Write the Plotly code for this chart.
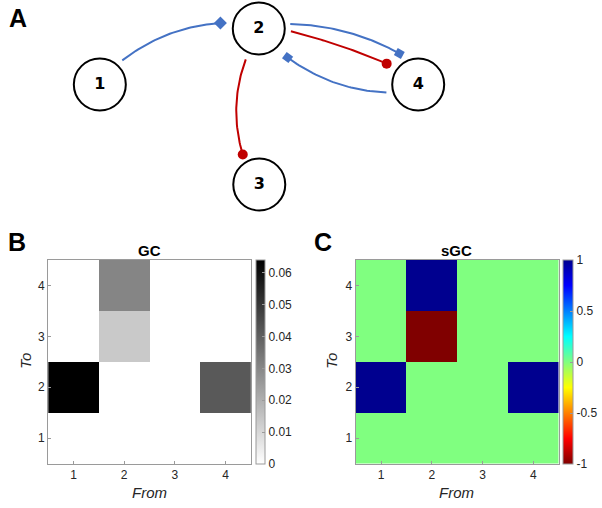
import numpy as np
import plotly.graph_objects as go

W, H = 602, 508

# ---------------- data ----------------
node_labels = ["1", "2", "3", "4"]
node_x = [100.5, 260.5, 261.0, 421.0]   # network layout positions (panel A)
node_y = [84.5, 28.5, 184.5, 84.5]

# edges: source, target, sign (+1 excitatory / -1 inhibitory), end symbol
edge_src = [1, 2, 2, 4, 2]
edge_dst = [2, 4, 4, 2, 3]
edge_sign = [1, 1, -1, 1, -1]
edge_symbol = ["diamond", "square", "circle", "square", "circle"]

from_labels = [1, 2, 3, 4]
to_labels = [1, 2, 3, 4]

# GC matrix: rows = To (1..4), columns = From (1..4)
gc_to1 = [0.0, 0.0, 0.0, 0.0]
gc_to2 = [0.064, 0.0, 0.0, 0.0417]
gc_to3 = [0.0, 0.0135, 0.0, 0.0]
gc_to4 = [0.0, 0.0306, 0.0, 0.0]
gc_ticks = [0, 0.01, 0.02, 0.03, 0.04, 0.05, 0.06]

# sGC matrix
sgc_to1 = [0, 0, 0, 0]
sgc_to2 = [1, 0, 0, 1]
sgc_to3 = [0, -1, 0, 0]
sgc_to4 = [0, 1, 0, 0]
sgc_ticks = [-1, -0.5, 0, 0.5, 1]

# ---------------- styling of the graph drawing ----------------
# per edge: start angle / radius on source, end angle / radius on target, bend
edge_geom = [
    (-46.8, 33, 188.0, 39, -16),
    (-8.0, 32, -121.5, 36.4, -14),
    (5.0, 32.5, -146.7, 38, -4),
    (166.0, 33, 45.0, 41, -16),
    (113.0, 33.5, -119.0, 34.3, 16),
]
BLUE = "#4472C4"
RED = "#C00000"
AXC = "#9a9a9a"
TXT = "#262626"
FONT = "Liberation Sans, Arial, sans-serif"


def px(x):
    return x / W


def py(y):
    return 1 - y / H


fig = go.Figure()

# ---------- Panel A: network ----------
for s, d, sign, sym, geom in zip(edge_src, edge_dst, edge_sign, edge_symbol, edge_geom):
    a0, r0, a1, r1, bend = geom
    sx, sy = node_x[s - 1], node_y[s - 1]
    tx, ty = node_x[d - 1], node_y[d - 1]
    p0 = np.array([sx + r0 * np.cos(np.radians(a0)), sy + r0 * np.sin(np.radians(a0))])
    p2 = np.array([tx + r1 * np.cos(np.radians(a1)), ty + r1 * np.sin(np.radians(a1))])
    ch = p2 - p0
    n = np.array([-ch[1], ch[0]]) / np.linalg.norm(ch)
    p1 = (p0 + p2) / 2 + bend * n
    t = np.linspace(0, 1, 40)[:, None]
    pts = (1 - t) ** 2 * p0 + 2 * (1 - t) * t * p1 + t ** 2 * p2
    col = BLUE if sign > 0 else RED
    fig.add_trace(go.Scatter(x=pts[:, 0], y=pts[:, 1], mode="lines",
                             line=dict(color=col, width=2), xaxis="x3", yaxis="y3",
                             hoverinfo="skip", showlegend=False))
    tan = p2 - p1
    ang = float(np.degrees(np.arctan2(tan[1], tan[0]))) if sym == "square" else 0
    size = {"diamond": 10, "square": 8, "circle": 10}[sym]
    fig.add_trace(go.Scatter(x=[p2[0]], y=[p2[1]], mode="markers",
                             marker=dict(symbol=sym, size=size, color=col, angle=ang,
                                         line=dict(width=0)),
                             xaxis="x3", yaxis="y3", hoverinfo="skip", showlegend=False))

fig.add_trace(go.Scatter(x=node_x, y=node_y, mode="markers+text", text=node_labels,
                         textposition="middle center",
                         textfont=dict(family="DejaVu Sans, sans-serif",
                                       size=16, color="black", weight="bold"),
                         marker=dict(size=52, color="white", line=dict(color="black", width=2)),
                         xaxis="x3", yaxis="y3", hoverinfo="skip", showlegend=False))

# ---------- Panel B: GC ----------
gc_scale = [[0, "#ffffff"], [1, "#000000"]]
fig.add_trace(go.Heatmap(
    x=from_labels, y=to_labels, z=[gc_to1, gc_to2, gc_to3, gc_to4],
    zmin=0, zmax=0.064, colorscale=gc_scale, xaxis="x", yaxis="y",
    colorbar=dict(x=px(258), xanchor="left", y=py(260), yanchor="top",
                  len=(464 - 260) / H, lenmode="fraction", thickness=9,
                  thicknessmode="pixels", xpad=0, ypad=0, outlinewidth=1,
                  outlinecolor=AXC, ticks="inside", ticklen=3, tickcolor=AXC,
                  tickvals=gc_ticks, ticktext=[f"{v:g}" for v in gc_ticks],
                  tickfont=dict(family=FONT, size=12, color=TXT)),
    hoverinfo="skip"))

# ---------- Panel C: sGC ----------
jet_r = [[0.0, "rgb(128,0,0)"], [0.125, "rgb(255,0,0)"], [0.375, "rgb(255,255,0)"],
         [0.625, "rgb(0,255,255)"], [0.875, "rgb(0,0,255)"], [1.0, "rgb(0,0,143)"]]
fig.add_trace(go.Heatmap(
    x=from_labels, y=to_labels, z=[sgc_to1, sgc_to2, sgc_to3, sgc_to4],
    zmin=-1, zmax=1, colorscale=jet_r, xaxis="x2", yaxis="y2",
    colorbar=dict(x=px(567), xanchor="left", y=py(260), yanchor="top",
                  len=(464 - 260) / H, lenmode="fraction", thickness=10,
                  thicknessmode="pixels", xpad=0, ypad=0, outlinewidth=1,
                  outlinecolor=AXC, ticks="inside", ticklen=3, tickcolor=AXC,
                  tickvals=sgc_ticks, ticktext=[f"{v:g}" for v in sgc_ticks],
                  tickfont=dict(family=FONT, size=12, color=TXT)),
    hoverinfo="skip"))

axis_common = dict(showline=True, mirror=True, linecolor=AXC, linewidth=1,
                   ticks="inside", ticklen=3, tickcolor=AXC, showgrid=False,
                   zeroline=False, range=[0.5, 4.5], tickvals=[1, 2, 3, 4],
                   tickfont=dict(family=FONT, size=12, color=TXT), fixedrange=True)

fig.update_layout(
    width=W, height=H, autosize=False, margin=dict(l=0, r=0, t=0, b=0),
    paper_bgcolor="white", plot_bgcolor="white",
    xaxis=dict(domain=[px(48.5), px(252.5)], anchor="y", **axis_common),
    yaxis=dict(domain=[py(463.5), py(260)], anchor="x", **axis_common),
    xaxis2=dict(domain=[px(358), px(562.5)], anchor="y2", **axis_common),
    yaxis2=dict(domain=[py(463.5), py(260)], anchor="x2", **axis_common),
    xaxis3=dict(domain=[0, 1], range=[0, W], visible=False, anchor="y3", fixedrange=True),
    yaxis3=dict(domain=[py(222), 1], range=[222, 0], visible=False, anchor="x3", fixedrange=True),
)

ann = []
# panel letters
for lab, x, y in [("A", 7, 2), ("B", 6, 226), ("C", 314, 226)]:
    ann.append(dict(text=lab, x=px(x), y=py(y), xref="paper", yref="paper",
                    xanchor="left", yanchor="top", showarrow=False,
                    font=dict(family=FONT, size=25, color="black", weight="bold")))
# titles
for lab, xc in [("GC", (49 + 252) / 2), ("sGC", (358 + 562) / 2)]:
    ann.append(dict(text=lab, x=px(xc), y=py(250), xref="paper", yref="paper",
                    xanchor="center", yanchor="middle", showarrow=False,
                    font=dict(family=FONT, size=15, color="black", weight="bold")))
# axis titles
for xc in [(49 + 252) / 2, (358 + 562) / 2]:
    ann.append(dict(text="<i>From</i>", x=px(xc), y=py(492), xref="paper", yref="paper",
                    xanchor="center", yanchor="middle", showarrow=False,
                    font=dict(family=FONT, size=15, color=TXT)))
for xc in [25, 333]:
    ann.append(dict(text="<i>To</i>", x=px(xc), y=py(361), xref="paper", yref="paper",
                    xanchor="center", yanchor="middle", showarrow=False, textangle=-90,
                    font=dict(family=FONT, size=15, color=TXT)))
fig.update_layout(annotations=ann)

fig.write_html("out.html", config={"displayModeBar": False, "responsive": False},
               post_script="document.body.style.margin='0';document.body.style.overflow='hidden';")
